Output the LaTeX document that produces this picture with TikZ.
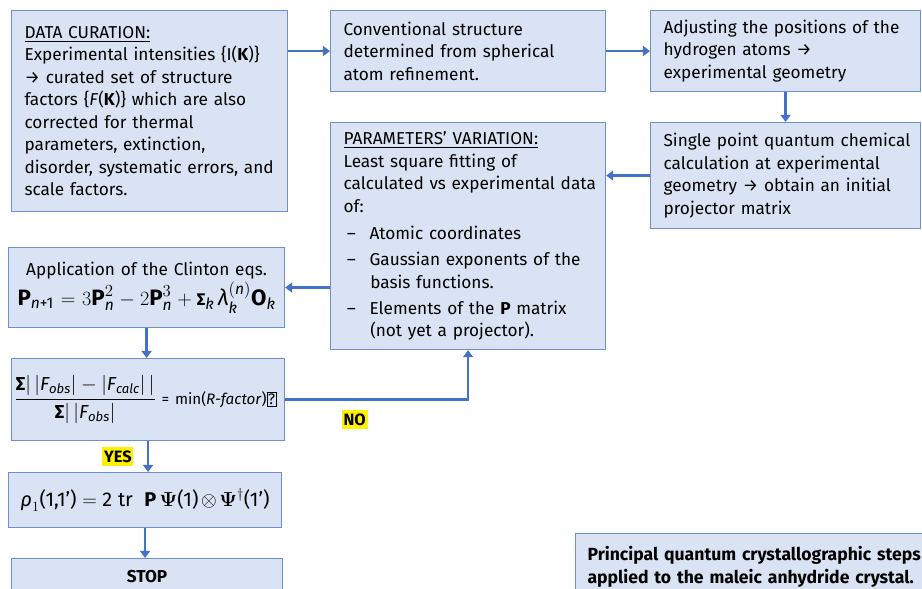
\documentclass[tikz,border=0pt]{standalone}
\usepackage{amsmath}
\usepackage{fontspec}
\setmainfont{Fira Sans}
\usetikzlibrary{arrows.meta,positioning}
\definecolor{boxfill}{HTML}{DAE3F3}
\definecolor{boxline}{HTML}{6F8FCB}
\definecolor{flowblue}{HTML}{4472C4}
\definecolor{marker}{HTML}{FFF200}

\begin{document}
\begin{tikzpicture}[
  box/.style={draw=boxline, line width=1pt, fill=boxfill, anchor=north west, align=left,
    inner xsep=0.39cm, inner ysep=0pt, font=\fontsize{14.7}{19.2}\selectfont},
  para/.style={box, inner xsep=0.1cm, execute at begin node={\leftskip=0.29cm\relax}},
  flow/.style={draw=flowblue, line width=2.2pt, -{Triangle[length=6pt,width=8.5pt]}},
  hilite/.style={fill=marker, inner xsep=1.5pt, inner ysep=3pt, font=\fontsize{14}{15}\selectfont\bfseries}
]
\clip (0,0) rectangle (27.66,-17.64);

\node[para, text width=8.08cm, minimum height=6.03cm] (v1) at (0.33,-0.3)
  {\underline{DATA CURATION:}\\
   Experimental intensities \{I(\textbf{K})\}\\
   → curated set of structure\\
   factors \{\textit{F}(\textbf{K})\} which are also\\
   corrected for thermal\\
   parameters, extinction,\\
   disorder, systematic errors, and\\
   scale factors.};
\node[para, text width=8.05cm, minimum height=2.43cm] (v2) at (9.9,-0.3)
  {Conventional structure\\determined from spherical\\atom refinement.};
\node[para, text width=7.9cm, minimum height=2.43cm] (v3) at (19.5,-0.3)
  {Adjusting the positions of the\\hydrogen atoms →\\experimental geometry};
\node[para, text width=7.9cm, minimum height=3.18cm] (v4) at (19.5,-3.66)
  {Single point quantum chemical\\calculation at experimental\\geometry → obtain an initial\\projector matrix};
\node[para, text width=8.05cm, minimum height=6.81cm] (v5) at (9.9,-3.66)
  {\underline{PARAMETERS’ VARIATION:}\\
   Least square fitting of\\
   calculated vs experimental data\\
   of:\\[4pt]
   \makebox[0.78cm][l]{\hspace{0.1cm}–}Atomic coordinates\\[3pt]
   \makebox[0.78cm][l]{\hspace{0.1cm}–}Gaussian exponents of the\\
   \hspace*{0.8cm}basis functions.\\[3pt]
   \makebox[0.78cm][l]{\hspace{0.1cm}–}Elements of the \textbf{P} matrix\\
   \hspace*{0.8cm}(not yet a projector).};
\node[box, align=center, inner xsep=0.05cm, text width=8.18cm, minimum height=2.4cm] (v6) at (0.24,-7.41)
  {Application of the Clinton eqs.\\[1pt]
   {\fontsize{19}{21}\selectfont
   $\textbf{P}_{\text{\textit{n}+1}} = 3\textbf{P}_{\textit{n}}^{2} - 2\textbf{P}_{\textit{n}}^{3}
    + \text{\Large\textbf{Σ}}_{\textit{k}}\,\textit{λ}_{\textit{k}}^{(\textit{n})}\textbf{O}_{\textit{k}}$}};
\node[box, inner xsep=0.09cm, text width=8.01cm, minimum height=2.46cm] (v7) at (0.33,-10.74)
  {{\fontsize{16}{19}\selectfont
   $\dfrac{\textbf{Σ}|\,|\textit{F}_{\textit{obs}}| - |\textit{F}_{\textit{calc}}|\,|}{\textbf{Σ}|\,|\textit{F}_{\textit{obs}}|}$}
   {\fontsize{13}{14}\selectfont = min(\textit{R-factor})\setlength{\fboxsep}{1pt}\fbox{?}}};
\node[box, inner xsep=0.36cm, text width=7.47cm, minimum height=1.65cm] (v8) at (0.24,-14.16)
  {{\fontsize{17}{20}\selectfont
   $\textit{ρ}_{1}\text{(1,1')} = \text{2 tr}\ \ \textbf{P}\,\boldsymbol{\Psi}\text{(1)}\otimes\boldsymbol{\Psi}^{\dagger}\text{(1')}$}};
\node[box, align=center, text width=7.35cm, minimum height=1.1cm, font=\fontsize{14.7}{19.2}\selectfont\bfseries] (v9) at (0.33,-16.74)
  {STOP};
\node[box, inner xsep=0.36cm, text width=10.03cm, minimum height=2.01cm, font=\fontsize{15}{19.5}\selectfont\bfseries] (v10) at (17.25,-15.99)
  {Principal quantum crystallographic steps\\applied to the maleic anhydride crystal.};

\draw[flow] (v1.east |- v2.west) -- (v2.west);
\draw[flow] (v2.east) -- (v3.west);
\draw[flow] (v3.south) -- (v4.north);
\draw[flow] (v4.west) -- (v4.west -| v5.east);
\draw[flow] (v6.east -| v5.west) -- (v6.east);
\draw[flow] (v6.south) -- (v6.south |- v7.north);
\draw[flow] (v7.east) -| node[hilite, pos=0.19, below=0.28cm, name=v11] {NO} (v5.south);
\draw[flow] (v7.south) -- node[hilite, left=0.4cm, name=v12] {YES} (v7.south |- v8.north);
\draw[flow] (v8.south) -- (v8.south |- v9.north);
\end{tikzpicture}
\end{document}
